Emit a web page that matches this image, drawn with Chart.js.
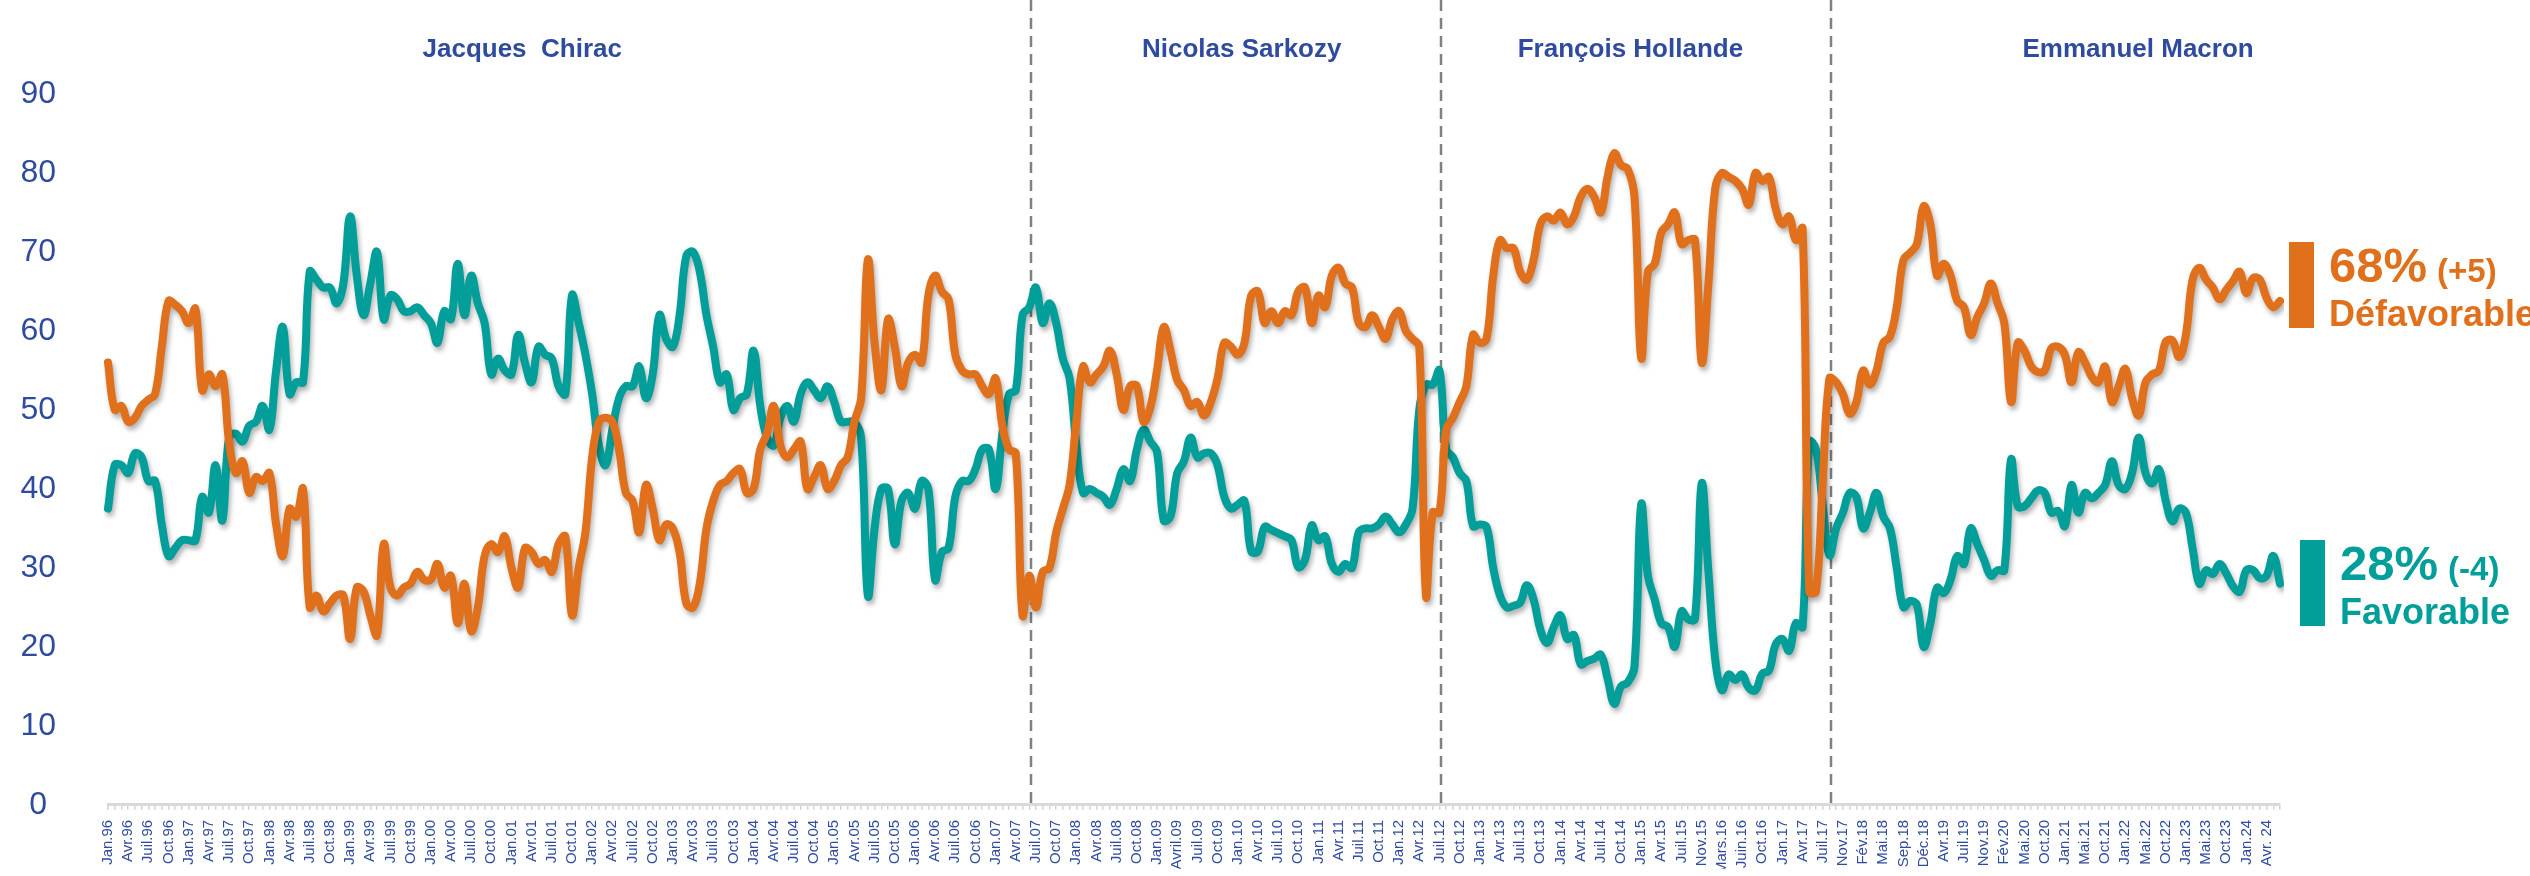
<!DOCTYPE html>
<html lang="fr">
<head>
<meta charset="utf-8">
<title>Opinion favorable / défavorable</title>
<script src="https://cdn.jsdelivr.net/npm/chart.js@4.4.1/dist/chart.umd.min.js"></script>
<style>
  html, body { margin: 0; padding: 0; background: #fff; }
  canvas { display: block; }
</style>
</head>
<body>
<canvas id="chart" width="2530" height="876"></canvas>
<script>
// Axis labels, one for every third survey
const tickLabels = [
  'Jan.96', 'Avr.96', 'Juil.96', 'Oct.96', 'Jan.97', 'Avr.97', 'Juil.97', 'Oct.97',
  'Jan.98', 'Avr.98', 'Juil.98', 'Oct.98', 'Jan.99', 'Avr.99', 'Juil.99', 'Oct.99',
  'Jan.00', 'Avr.00', 'Juil.00', 'Oct.00', 'Jan.01', 'Avr.01', 'Juil.01', 'Oct.01',
  'Jan.02', 'Avr.02', 'Juil.02', 'Oct.02', 'Jan.03', 'Avr.03', 'Juil.03', 'Oct.03',
  'Jan.04', 'Avr.04', 'Juil.04', 'Oct.04', 'Jan.05', 'Avr.05', 'Juil.05', 'Oct.05',
  'Jan.06', 'Avr.06', 'Juil.06', 'Oct.06', 'Jan.07', 'Avr.07', 'Juil.07', 'Oct.07',
  'Jan.08', 'Avr.08', 'Juil.08', 'Oct.08', 'Jan.09', 'Avril.09', 'Juil.09', 'Oct.09',
  'Jan.10', 'Avr.10', 'Juil.10', 'Oct.10', 'Jan.11', 'Avr.11', 'Juil.11', 'Oct.11',
  'Jan.12', 'Avr.12', 'Juil.12', 'Oct.12', 'Jan.13', 'Avr.13', 'Juil.13', 'Oct.13',
  'Jan.14', 'Avr.14', 'Juil.14', 'Oct.14', 'Jan.15', 'Avr.15', 'Juil.15', 'Nov.15',
  'Mars.16', 'Juin.16', 'Oct.16', 'Jan.17', 'Avr.17', 'Juil.17', 'Nov.17', 'Fév.18',
  'Mai.18', 'Sep.18', 'Déc.18', 'Avr.19', 'Juil.19', 'Nov.19', 'Fév.20', 'Mai.20',
  'Oct.20', 'Jan.21', 'Mai.21', 'Oct.21', 'Jan.22', 'Mai.22', 'Oct.22', 'Jan.23',
  'Mai.23', 'Oct.23', 'Jan.24', 'Avr. 24'
];

// Défavorable (%)
const unfavorable = [
  56, 50, 50.5, 48.5, 49, 50.5, 51.3, 52, 58, 63.8,
  63.3, 62.5, 61, 62.8, 52.5, 54.5, 53, 54.5, 46, 42,
  43.5, 39.5, 41.5, 41, 42, 35.5, 31.5, 37.5, 36.5, 40,
  25, 26.5, 24.5, 25.5, 26.5, 26.5, 21, 27.5, 27, 24,
  21.5, 33, 27.5, 26.5, 27.5, 28, 29.5, 28.5, 28.5, 30.5,
  27.5, 29, 23, 28, 22, 25, 31.5, 33, 32, 34,
  30, 27.5, 32.5, 32, 30.5, 31, 29.5, 33, 34, 24,
  30, 34.5, 44, 48.5, 49, 48.5, 45, 39.5, 38.5, 34.5,
  40.5, 37.5, 33.5, 35.5, 35, 32, 25.5, 25, 28, 35,
  38.5, 40.5, 41, 42, 42.5, 39.5, 40, 45, 47, 50.5,
  45.5, 44, 45, 46, 40, 41.5, 43, 40, 41, 43,
  44, 48.5, 51.5, 69, 58.5, 52.5, 61.5, 58, 53, 56,
  57, 56, 64.5, 67, 65, 64, 57, 55, 54.5, 54.5,
  53, 52, 54, 48, 45, 44.5, 24, 29, 25, 29.5,
  30, 34.5, 37.5, 40.5, 48.5, 55.5, 53.5, 54.5, 55.5, 57.5,
  54.5, 50, 53, 53, 48.5, 50.3, 55, 60.5, 57.5, 53.8,
  52.5, 50.5, 51, 49.3, 51, 54, 58.5, 58, 57, 58.5,
  64.5, 65, 61, 62.5, 61, 62.5, 62, 65, 65.5, 61,
  64.5, 63, 67, 68, 66, 65.5, 61, 60.5, 62, 60.5,
  59, 61.5, 62.5, 60, 59, 58, 26.5, 37, 37, 47.5,
  49, 51, 53, 59.5, 58.5, 59, 67, 71.5, 70.5, 70.5,
  67.5, 66.5, 69, 73.5, 74.5, 74, 75, 73.5, 74.5, 77,
  78, 77, 75, 79.5, 82.5, 81, 80.5, 77, 56.6, 67.5,
  68.5, 72.5, 73.5, 75, 71, 71.5, 71.5, 56, 66, 78,
  80, 79.5, 79, 78, 76, 80, 79, 79.5, 75.5, 73.5,
  74.5, 71.5, 73, 27, 27, 41, 54, 53.5, 52, 49.5,
  51, 55, 53.2, 55, 58.5, 59.3, 63, 69, 69.9, 71,
  75.8, 73.5, 67, 68.5, 67, 63.8, 63, 59.5, 61.8, 63.5,
  66, 63.5, 61, 51, 58.5, 57.5, 55.5, 54.8, 55, 57.8,
  58, 57, 53.5, 57.3, 56, 54.2, 53.5, 55.5, 51, 53,
  55.2, 51.5, 49.3, 53.5, 54.5, 55, 58.6, 58.8, 56.7, 59.5,
  66.5, 68, 66.5, 65.5, 64, 65.2, 66.3, 67.5, 64.8, 66.7,
  66.5, 64.2, 63, 63.8
];

// Favorable (%)
const favorable = [
  37.5, 43, 43, 42, 44.5, 44, 41, 41, 35.5, 31.5,
  32.5, 33.5, 33.5, 33.5, 39, 37, 43, 36, 46.5, 47,
  46, 48, 48.5, 50.5, 47.5, 55, 60.5, 52, 53.5, 53.5,
  67.5, 66.5, 65.5, 65.5, 63.5, 66, 74.5, 67, 62, 66,
  70, 61.5, 64.5, 64, 62.5, 62.5, 63, 62, 61, 58.5,
  62.5, 61.5, 68.5, 62, 67, 63.5, 61, 54.5, 56.5, 55,
  54.5, 59.5, 56, 53.5, 58, 57, 56.5, 53, 52, 64.5,
  61, 57, 52, 45.5, 43, 47.5, 51.5, 53, 53, 55.5,
  51.5, 54.5, 62, 59, 58, 62, 69.5, 70, 67.5, 62,
  58, 53.5, 54.5, 50, 51.5, 52, 57.5, 50.5, 46.5, 45.5,
  49, 50.5, 48.5, 52, 53.5, 52.5, 51.5, 53, 51, 48.5,
  48.5, 48.5, 46.5, 26.5, 35, 40, 40, 33, 38.5, 39.5,
  37.5, 41, 40, 28.5, 32, 32.5, 39, 41, 41, 42.5,
  45, 45, 40, 47, 52, 52.5, 62, 63, 65.5, 61,
  63.5, 61, 56.5, 54, 45.6, 39.5, 40, 39.5, 39, 38,
  40, 42.5, 41, 45, 47.5, 46, 44.7, 36, 36.5, 42,
  43.5, 46.5, 44, 44.5, 44.5, 43, 39, 37.5, 38, 38.5,
  32.1, 32.1, 35.2, 34.8, 34.4, 34, 33.5, 30.1, 31, 35.4,
  33.5, 34, 30.5, 29.5, 30.5, 30, 34.5, 35, 35, 35.5,
  36.5, 35.5, 34.5, 35.5, 37.5, 50, 53.2, 53.2, 55, 45,
  44, 42, 41, 35.3, 35.5, 35.2, 30, 26.5, 25, 25.2,
  25.6, 27.8, 26, 22.2, 20.5, 22.5, 24, 21, 21.5, 17.8,
  18.2, 18.5, 19, 16, 12.8, 15, 15.5, 17.5, 38, 29,
  26, 23, 22.5, 20, 24.5, 23.5, 23.5, 40.7, 29.5, 18.5,
  14.5, 16.5, 15.8, 16.5, 14.8, 14.5, 16.6, 17, 20.3, 21,
  19.5, 23, 22.5, 46, 45, 38, 31.6, 35, 37, 39.5,
  39, 35, 37, 39.5, 36.5, 35, 30, 25, 25.8, 25.3,
  20, 23, 27.5, 26.8, 28.5, 31.5, 30.5, 35, 33, 31,
  29, 29.7, 29.7, 43.7, 37.8, 37.8, 38.8, 39.8, 39.5, 37,
  37.2, 35.3, 40.5, 37, 39.5, 38.8, 39.5, 40.5, 43.5, 40.5,
  40, 42, 46.5, 42, 40.7, 42.5, 38.5, 35.9, 37.5, 37,
  32.5, 28, 29.7, 29.2, 30.5, 29.3, 27.7, 27, 29.7, 29.7,
  28.7, 29, 31.5, 28
];

const presidents = ['Jacques  Chirac', 'Nicolas Sarkozy', 'François Hollande', 'Emmanuel Macron'];
const latest = { unfavorable: 68, unfavorableDelta: '+5', favorable: 28, favorableDelta: '-4' };

const ORANGE = '#E0701B';
const TEAL = '#019E9A';
const BLUE = '#2E4B9F';
const FONT = "'Liberation Sans', Arial, sans-serif";

// every survey gets a tick mark, only every third one a label
const categories = unfavorable.map((_, i) => (i % 3 === 0 && tickLabels[i / 3]) ? tickLabels[i / 3] : '');

// where the mandates change and where the names sit (in survey index units)
const mandateBreaks = [137.3, 198.2, 256.2];
const nameCenters = [61.6, 168.6, 226.4, 301.9];

const overlay = {
  id: 'overlay',
  beforeDatasetsDraw(chart) {
    const { ctx, chartArea, scales: { x } } = chart;
    ctx.save();
    ctx.strokeStyle = '#808080';
    ctx.lineWidth = 2.5;
    ctx.setLineDash([11, 7]);
    mandateBreaks.forEach(b => {
      const px = Math.round(x.getPixelForValue(b));
      ctx.beginPath();
      ctx.moveTo(px, 0);
      ctx.lineTo(px, chartArea.bottom + 4);
      ctx.stroke();
    });
    ctx.restore();
  },
  beforeDatasetDraw(chart) {
    const ctx = chart.ctx;
    ctx.save();
    ctx.shadowColor = 'rgba(0, 0, 0, 0.3)';
    ctx.shadowBlur = 5;
    ctx.shadowOffsetX = 2;
    ctx.shadowOffsetY = 4;
  },
  afterDatasetDraw(chart) {
    chart.ctx.restore();
  },
  afterDraw(chart) {
    const { ctx, scales: { x } } = chart;
    ctx.save();

    // presidents' names
    ctx.fillStyle = BLUE;
    ctx.font = 'bold 26px ' + FONT;
    ctx.textAlign = 'center';
    ctx.textBaseline = 'middle';
    presidents.forEach((name, i) => {
      ctx.fillText(name, x.getPixelForValue(nameCenters[i]), 50);
    });

    // latest values on the right
    ctx.textAlign = 'left';
    ctx.textBaseline = 'alphabetic';
    const block = (color, barX, top, value, delta, label) => {
      ctx.fillStyle = color;
      ctx.fillRect(barX, top, 25, 86);
      const tx = barX + 40;
      ctx.font = 'bold 49px ' + FONT;
      const big = value + '%';
      ctx.fillText(big, tx, top + 40);
      const w = ctx.measureText(big).width;
      ctx.font = 'bold 33px ' + FONT;
      ctx.fillText('(' + delta + ')', tx + w + 10, top + 40);
      ctx.font = 'bold 36px ' + FONT;
      ctx.fillText(label, tx, top + 84);
    };
    block(ORANGE, 2289, 242, latest.unfavorable, latest.unfavorableDelta, 'Défavorable');
    block(TEAL, 2300, 540, latest.favorable, latest.favorableDelta, 'Favorable');

    ctx.restore();
  }
};

new Chart(document.getElementById('chart'), {
  type: 'line',
  data: {
    labels: categories,
    datasets: [
      {
        label: 'Défavorable',
        data: unfavorable,
        borderColor: ORANGE,
        borderWidth: 8,
        tension: 0.4,
        pointRadius: 0,
        borderCapStyle: 'round',
        borderJoinStyle: 'round'
      },
      {
        label: 'Favorable',
        data: favorable,
        borderColor: TEAL,
        borderWidth: 8,
        tension: 0.4,
        pointRadius: 0,
        borderCapStyle: 'round',
        borderJoinStyle: 'round'
      }
    ]
  },
  plugins: [overlay],
  options: {
    responsive: false,
    animation: false,
    layout: { padding: { top: 94, right: 250, left: 0, bottom: 0 } },
    plugins: {
      legend: { display: false },
      tooltip: { enabled: false }
    },
    scales: {
      x: {
        offset: false,
        afterFit: scale => { scale.height = 64; },
        border: { display: true, color: '#d9d9d9', width: 3 },
        grid: { drawOnChartArea: false, drawTicks: true, tickLength: 5, color: '#d4d4d4', lineWidth: 1.5 },
        ticks: {
          autoSkip: false,
          minRotation: 90,
          maxRotation: 90,
          padding: 10,
          color: BLUE,
          font: { family: FONT, size: 15 }
        }
      },
      y: {
        min: 0,
        max: 90,
        afterFit: scale => { scale.width = 108; },
        border: { display: false },
        grid: { display: false, drawTicks: false },
        ticks: {
          stepSize: 10,
          crossAlign: 'center',
          padding: 52,
          color: BLUE,
          font: { family: FONT, size: 32 }
        }
      }
    }
  }
});
</script>
</body>
</html>
